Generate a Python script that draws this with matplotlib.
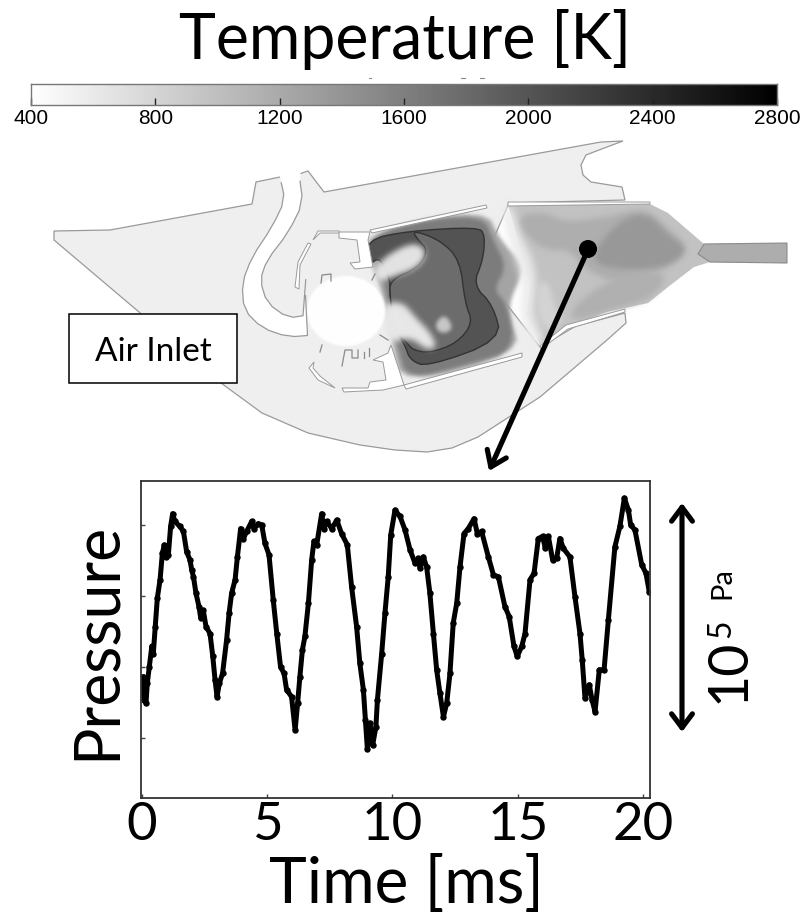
import numpy as np
import matplotlib
matplotlib.use('Agg')
import matplotlib.pyplot as plt
from matplotlib.patches import Polygon, Ellipse, Rectangle

plt.rcParams['font.family'] = ['Lato', 'DejaVu Sans']

# pressure trace (time in ms, pressure in tick units)
time_ms = [0.05, 0.10, 0.18, 0.23, 0.31, 0.41, 0.47, 0.55, 0.63, 0.74, 0.83, 0.91, 0.98, 1.07, 1.16, 1.24, 1.33,
           1.53, 1.67, 1.80, 1.93, 2.00, 2.07, 2.17, 2.29, 2.36, 2.46, 2.57, 2.73, 2.84, 2.93, 3.01, 3.10, 3.23,
           3.39, 3.49, 3.59, 3.73, 3.82, 3.95, 4.06, 4.19, 4.39, 4.48, 4.65, 4.79, 4.92, 5.08, 5.25, 5.39, 5.54,
           5.68, 5.78, 5.98, 6.12, 6.22, 6.31, 6.41, 6.51, 6.65, 6.78, 6.87, 6.98, 7.18, 7.27, 7.38, 7.58, 7.78,
           7.97, 8.20, 8.37, 8.57, 8.70, 8.84, 8.92, 9.00, 9.10, 9.21, 9.34, 9.40, 9.57, 9.70, 9.83, 9.93, 10.10,
           10.30, 10.50, 10.70, 10.90, 11.03, 11.10, 11.23, 11.36, 11.49, 11.63, 11.76, 11.89, 12.03, 12.16, 12.29,
           12.42, 12.56, 12.69, 12.85, 13.02, 13.25, 13.38, 13.55, 13.82, 14.02, 14.22, 14.48, 14.65, 14.84, 14.97,
           15.15, 15.28, 15.48, 15.64, 15.81, 15.98, 16.09, 16.21, 16.38, 16.54, 16.67, 16.81, 17.07, 17.27, 17.47,
           17.56, 17.67, 17.84, 17.95, 18.07, 18.24, 18.43, 18.60, 18.86, 19.06, 19.24, 19.40, 19.49, 19.66, 19.93,
           20.10, 20.23]
pressure = [0.86, 0.54, 0.49, 0.77, 1.00, 1.29, 1.19, 1.57, 1.97, 2.23, 2.60, 2.72, 2.55, 2.58, 2.98, 3.16, 3.05,
            2.98, 2.91, 2.62, 2.51, 2.37, 2.27, 2.04, 1.85, 1.69, 1.80, 1.57, 1.47, 1.15, 0.82, 0.58, 0.77, 0.91,
            1.38, 1.76, 2.04, 2.23, 2.55, 2.95, 2.81, 2.91, 3.05, 2.95, 3.02, 3.00, 2.74, 2.58, 1.94, 1.47, 1.00,
            0.91, 0.68, 0.58, 0.11, 0.49, 0.86, 1.24, 1.43, 1.90, 2.51, 2.77, 2.72, 3.16, 2.95, 3.05, 2.95, 3.07,
            2.88, 2.72, 2.13, 1.57, 1.05, 0.68, 0.25, -0.16, 0.21, -0.10, 0.16, 0.54, 1.19, 1.76, 2.27, 2.86, 3.21,
            3.12, 2.93, 2.65, 2.46, 2.53, 2.39, 2.55, 2.41, 2.04, 1.47, 0.96, 0.63, 0.30, 0.49, 0.91,
            1.62, 1.90, 2.41, 2.88, 2.95, 3.09, 2.88, 2.91, 2.55, 2.30, 2.27, 1.85, 1.71, 1.29, 1.15,
            1.29, 1.47, 2.23, 2.32, 2.81, 2.84, 2.67, 2.84, 2.51, 2.53, 2.81, 2.67, 2.55, 1.99, 1.47,
            1.10, 0.56, 0.75, 0.54, 0.37, 0.96, 0.96, 1.66, 2.69, 2.98, 3.38, 3.21, 3.00, 2.93, 2.44,
            2.32, 2.06]
time_ticks = [0, 5, 10, 15, 20]
pressure_ticks = [0, 1, 2, 3]
temp_ticks = [400, 800, 1200, 1600, 2000, 2400, 2800]

# combustor geometry, in picture pixels
body = [(54, 231), (110, 230), (252, 204), (256, 182), (280, 177), (299, 174), (308, 171), (324, 192), (601, 142),
        (623, 141), (599, 150), (586, 155), (581, 165), (583, 175), (591, 182), (622, 187), (625, 200), (509, 203),
        (480, 270), (540, 347), (576, 326), (625, 313), (626, 323), (607, 340), (540, 397), (478, 437), (452, 448),
        (427, 452), (395, 450), (360, 445), (308, 433), (262, 413), (221, 383), (139, 312), (54, 240)]
channel_left = [(280, 177), (285, 200), (272, 227), (252, 257), (242, 283), (244, 310), (262, 328), (288, 337), (314, 335)]
channel_right = [(299, 174), (303, 203), (288, 233), (267, 260), (260, 280), (267, 303), (288, 318), (308, 315)]
swirl_top = [(339, 232), (370, 232), (368, 240), (373, 267), (355, 269), (350, 263), (360, 262), (357, 240), (339, 238)]
swirl_low = [(391, 345), (404, 385), (383, 390), (344, 392), (342, 388), (368, 388), (370, 382), (386, 380), (383, 362),
             (373, 360), (388, 353)]
transition = [(508, 205), (650, 204), (668, 213), (704, 244), (787, 243), (787, 263), (710, 262), (694, 267), (668, 287),
              (648, 303), (607, 312), (566, 327), (540, 345), (527, 315), (530, 285), (522, 255)]
liner_top = [(370, 230), (486, 205), (487, 208), (372, 233)]
liner_low = [(404, 385), (522, 353), (522, 357), (406, 389)]
wall_top = [(508, 202), (650, 202), (650, 204), (508, 206)]
wall_low = [(540, 346), (566, 325), (625, 309), (625, 312), (568, 329), (541, 349)]
strips = [[(308, 243), (298, 262), (295, 287), (299, 289), (300, 265), (311, 244)],
          [(314, 362), (309, 368), (318, 380), (335, 388), (320, 376), (313, 368)],
          [(318, 231), (339, 231), (339, 233), (320, 233), (313, 240)]]
small_parts = [[(321, 283), (322, 275), (331, 274), (331, 281)],
               [(342, 366), (345, 350), (352, 350), (352, 358), (358, 358), (358, 350)],
               [(364, 352), (364, 358)], [(369, 348), (369, 356)],
               [(380, 335), (388, 340)], [(372, 280), (375, 274)], [(322, 345), (320, 352)]]

# temperature field as grey layers: (grey, blur in px, outline)
field_outer = [
    ('#a4a4a4', 2, [(370, 232), (485, 208), (500, 240), (522, 262), (522, 275), (510, 300), (510, 317), (521, 353),
                    (403, 385), (393, 347), (387, 310), (377, 277), (367, 253)]),
    ('#7c7c7c', 2, [(367, 240), (410, 222), (483, 215), (493, 240), (507, 267), (493, 290), (507, 303), (515, 350),
                    (473, 363), (407, 380), (398, 347), (387, 297), (380, 260)]),
]
dark_band = [(366, 240), (408, 231), (478, 227), (485, 235), (483, 260), (473, 285), (493, 305), (502, 340),
             (427, 367), (410, 360), (405, 345), (395, 330), (390, 297), (390, 280), (380, 257), (369, 265)]
inner_zone = [(412, 230), (440, 240), (460, 260), (465, 303), (473, 323), (457, 343), (430, 353), (413, 350),
              (408, 344), (395, 330), (390, 297), (390, 280), (418, 268), (428, 250), (418, 240)]
flames = [
    ('#e4e4e4', 3, [(373, 270), (387, 255), (413, 242), (427, 250), (420, 267), (390, 278), (377, 282)]),
    ('#e8e8e8', 3, [(383, 303), (403, 302), (415, 317), (430, 332), (437, 347), (427, 350), (410, 337), (390, 343), (383, 330)]),
    ('#c8c8c8', 2, [(435, 323), (445, 314), (453, 327), (447, 333), (438, 332)]),
]
hot_gas = [
    ('#ececec', 4, [(500, 205), (512, 205), (520, 235), (532, 258), (537, 285), (532, 315), (546, 342), (530, 350), (520, 310),
                    (524, 285), (514, 255)]),
    ('#aeaeae', 3, [(518, 215), (545, 212), (565, 222), (600, 218), (635, 210), (650, 212), (670, 230), (690, 250), (660, 272),
                    (620, 285), (585, 270), (570, 250), (545, 250), (525, 235)]),
    ('#d4d4d4', 3, [(540, 278), (550, 285), (555, 310), (565, 318), (548, 335), (535, 310)]),
    ('#989898', 3, [(590, 262), (605, 235), (630, 215), (650, 215), (668, 235), (690, 250), (665, 268), (620, 270)]),
    ('#b0b0b0', 3, [(600, 285), (640, 270), (670, 275), (650, 300), (610, 310), (575, 322), (570, 310)]),
]
pipe = [(704, 244), (787, 243), (787, 263), (710, 262), (698, 254)]


def chaikin(pts, n=2):
    # corner cutting, closed outlines stay closed
    p = np.array(pts, float)
    for i in range(n):
        q = np.roll(p, -1, axis=0)
        p = np.column_stack([0.75 * p + 0.25 * q, 0.25 * p + 0.75 * q]).reshape(-1, 2)
    return p


def soft(grey, sigma):
    # agg filter: blur only the alpha of a flat grey shape
    rgb = matplotlib.colors.to_rgb(grey)
    k = np.exp(-0.5 * (np.arange(-3 * sigma, 3 * sigma + 1) / sigma) ** 2)
    k = k / k.sum()

    def f(im, dpi):
        pad = 3 * sigma
        a = np.pad(im[:, :, 3], pad)
        a = np.apply_along_axis(lambda v: np.convolve(v, k, mode='same'), 0, a)
        a = np.apply_along_axis(lambda v: np.convolve(v, k, mode='same'), 1, a)
        out = np.ones(a.shape + (4,))
        out[:, :, 0], out[:, :, 1], out[:, :, 2] = rgb
        out[:, :, 3] = a
        return out, -pad, -pad
    return f


def add_soft(layers):
    for grey, blur, pts in layers:
        pa = Polygon(chaikin(pts), fc=grey, ec='none')
        pa.set_agg_filter(soft(grey, blur))
        m.add_patch(pa)


fig = plt.figure(figsize=(8.03, 9.15), dpi=100)

# whole-figure axes in pixels for the schematic and loose text
m = fig.add_axes([0, 0, 1, 1])
m.set_xlim(0, 803)
m.set_ylim(915, 0)
m.axis('off')

edge = '#9a9a9a'
m.add_patch(Polygon(body, fc='#efefef', ec=edge, lw=0.9))

# inlet channel
ch = np.vstack([chaikin(channel_left, 1)[:-1], chaikin(channel_right, 1)[:-1][::-1]])
m.add_patch(Polygon(np.vstack([[(278, 168)], ch, [(301, 166)]]), fc='white', ec='none'))
m.plot(*chaikin(channel_left, 1)[:-1].T, color=edge, lw=0.9)
m.plot(*chaikin(channel_right, 1)[:-1].T, color=edge, lw=0.9)

m.add_patch(Polygon(transition, fc='#c2c2c2', ec='none'))
m.add_patch(Polygon(pipe, fc='#adadad', ec='#8c8c8c', lw=0.8))

# combustion zone, contour lines go under the flames
add_soft(field_outer)
m.add_patch(Polygon(chaikin(dark_band), fc='#535353', ec='#333333', lw=1.0))
m.add_patch(Polygon(chaikin(inner_zone), fc='#6c6c6c', ec='#333333', lw=1.0))
add_soft(flames)
add_soft(hot_gas)

for pts in [liner_top, liner_low, wall_top, wall_low, swirl_top, swirl_low]:
    m.add_patch(Polygon(pts, fc='white', ec=edge, lw=0.7))
for pts in strips:
    m.add_patch(Polygon(pts, fc='white', ec=edge, lw=0.7))

hub = Ellipse((346, 311), 78, 70, fc='white', ec='none')
hub.set_agg_filter(soft('#ffffff', 1))
m.add_patch(hub)
for pts in small_parts:
    m.plot(*np.array(pts).T, color='#8a8a8a', lw=0.9)

# probe and arrow
m.add_patch(Ellipse((588, 249), 18, 18, fc='black', ec='none'))
m.annotate('', xy=(489, 471), xytext=(586, 254),
           arrowprops=dict(arrowstyle='->,head_width=0.75,head_length=1.05', lw=3.7, color='black', shrinkA=0, shrinkB=0))
m.annotate('', xy=(682, 503), xytext=(682, 732),
           arrowprops=dict(arrowstyle='<->,head_width=0.75,head_length=1.0', lw=3.7, color='black', shrinkA=0, shrinkB=0))

m.add_patch(Rectangle((69, 314), 168, 69, fc='white', ec='black', lw=1.1))
m.text(153, 352, 'Air Inlet', fontsize=24, ha='center', va='center')

m.text(405, 59, 'Temperature [K]', fontsize=45, ha='center', va='baseline')
m.text(97, 641, 'Pressure', fontsize=45, rotation=90, ha='center', va='center')
m.text(406, 903, 'Time [ms]', fontsize=46, ha='center', va='baseline')
m.text(729, 671, '10', fontsize=40, rotation=90, ha='center', va='center')
m.text(721, 629, '5', fontsize=23, rotation=90, ha='center', va='center')
m.text(722, 583, 'Pa', fontsize=21, rotation=90, ha='center', va='center')

# specks above the colour bar
for x0, x1 in [(369, 371), (461, 465), (480, 484)]:
    m.plot([x0, x1], [78, 78], color='#8a8a8a', lw=0.8)

# colour bar
cb = fig.add_axes([31 / 803, 1 - 105 / 915, 746 / 803, 21 / 915])
cb.imshow(np.linspace(400, 2800, 512).reshape(1, -1), cmap='gray_r', aspect='auto', extent=(400, 2800, 0, 1),
          vmin=400, vmax=2800)
cb.set_yticks([])
cb.set_xticks(temp_ticks)
cb.tick_params(axis='x', direction='in', length=5, width=1, color='#222222', pad=3, labelsize=15)
for lab in cb.get_xticklabels():
    lab.set_family(['Liberation Sans', 'DejaVu Sans'])
for s in cb.spines.values():
    s.set_color('#777777')
    s.set_linewidth(1)

# pressure trace
ax = fig.add_axes([141 / 803, 1 - 798 / 915, 509 / 803, 317 / 915])
ax.plot(time_ms, pressure, color='black', lw=3.6, marker='o', ms=3.6, solid_joinstyle='round')
ax.set_xlim(-0.02, 20.26)
ax.set_ylim(-0.845, 3.62)
ax.set_xticks(time_ticks)
ax.set_yticks(pressure_ticks)
ax.set_yticklabels([])
ax.tick_params(direction='in', length=3, width=1, color='#444444')
ax.tick_params(axis='x', labelsize=38, pad=3)
for s in ax.spines.values():
    s.set_color('#333333')
    s.set_linewidth(1.3)

fig.savefig('out.png', dpi=100)
